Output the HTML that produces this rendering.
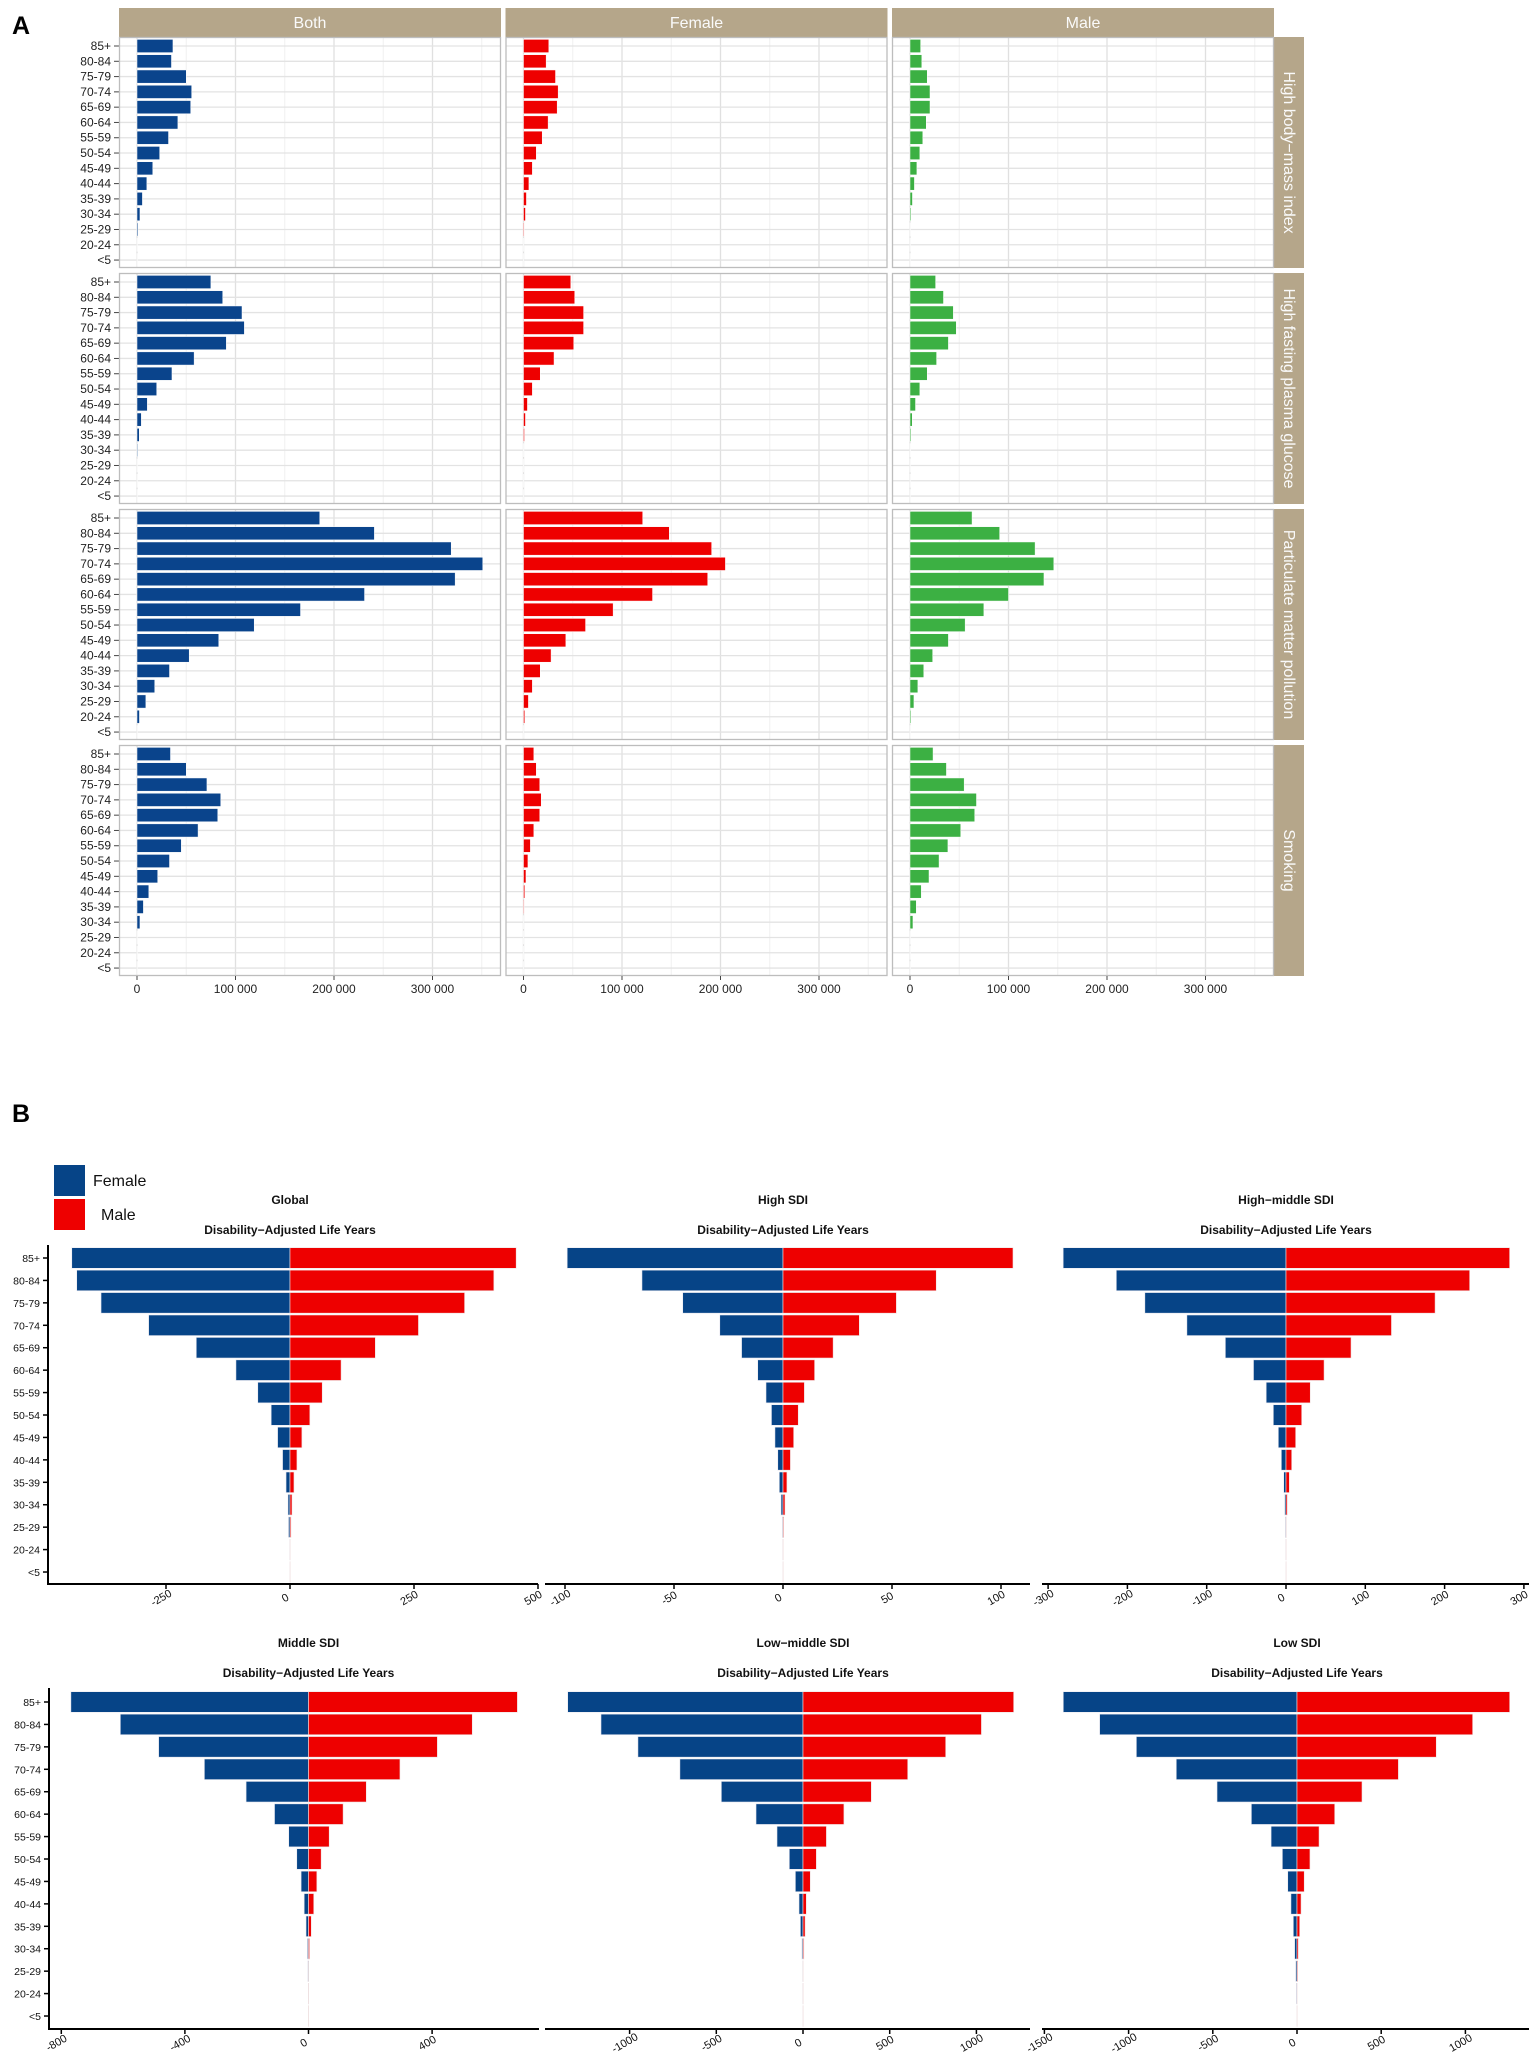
<!DOCTYPE html>
<html><head><meta charset="utf-8"><style>
html,body{margin:0;padding:0;background:#fff;}
svg{display:block;font-family:"Liberation Sans",Arial,sans-serif;}
</style></head>
<body>
<svg id="fig" width="1535" height="2058" viewBox="0 0 1535 2058" xmlns="http://www.w3.org/2000/svg">
<text x="12" y="34" font-size="25" font-weight="bold">A</text>
<text x="12" y="1122" font-size="25" font-weight="bold">B</text>
<g id="pa"></g>
<g id="pb"></g>
</svg>
<script>
// ---------- Panel A data (values in thousands) ----------
const ages = ["85+","80-84","75-79","70-74","65-69","60-64","55-59","50-54","45-49","40-44","35-39","30-34","25-29","20-24","<5"];
const sexCols = ["Both","Female","Male"];
const risks = ["High body\u2212mass index","High fasting plasma glucose","Particulate matter pollution","Smoking"];
const bmiBoth = [36.5,35,50,55.5,54.5,41.5,32,23,16,10,5.5,3,1,0.2,0];
const bmiFemale = [25.7,23,32.5,35.2,34.2,25,19,13,9,5.5,3,2,0.7,0.1,0];
const bmiMale = [10.8,12,17.5,20.3,20.3,16.5,13,10,7,4.5,2.5,1,0.3,0.1,0];
const fpgBoth = [75,87,106.6,109,90.7,58,35.5,20,10.5,4.4,2.3,0.7,0.3,0.1,0];
const fpgFemale = [48,52,61,61,51,31,17,9,4,2,1,0.4,0.1,0,0];
const fpgMale = [26,34,44,47,39,27,17.5,10,5.6,2.3,1,0.4,0.1,0,0];
const pmBoth = [185.5,241,319,351,323,231,166,119,83,53,33,18,9,2.5,0.3];
const pmFemale = [121,148,191,205,187,131,91,63,43,28,17,9,5,1.3,0.1];
const pmMale = [63,91,127,146,136,100,75,56,39,23,14,8,4,1,0.1];
const smkBoth = [34,50,71,85,82,62,45,33,21,12,6.5,3,0.3,0,0];
const smkFemale = [10.5,13,16.5,18,16.5,10.5,7,4.5,2.5,1.3,0.6,0.3,0,0,0];
const smkMale = [23.4,37,55,67.5,65.7,51.5,38.5,29.5,19.3,11.5,6.4,3,0.3,0,0];
const aTicks = [0,100,200,300];
const aTickLabels = ["0","100 000","200 000","300 000"];

// ---------- Panel B data ----------
const bTitles = ["Global","High SDI","High\u2212middle SDI","Middle SDI","Low\u2212middle SDI","Low SDI"];
const globalF = [440,430,381,285,189,109,65,38,25,15,8,4,3,0.5,0];
const globalM = [456,411,352,259,172,103,65,40,24,14,8,4,2,0.3,0];
const highF = [99,64.7,46,29,19,11.6,7.8,5.3,3.7,2.4,1.7,0.9,0.3,0.1,0];
const highM = [105.5,70.3,52,35,23,14.5,9.8,7,4.9,3.4,1.8,0.9,0.3,0.1,0];
const hmF = [281,214,178,125,76.5,41,25,16,9.7,5.9,2.9,1.7,0.8,0.2,0];
const hmM = [282,231.6,188,133,82,48,30.6,19.8,12.2,7.2,4.2,1.7,0.5,0.1,0];
const midF = [769,609,485,337,202,110,64,38,24,14,8,3.3,2.2,0.5,0];
const midM = [676,530,417,296,187,112,67,41,27,17,9,3.3,0.3,0.1,0];
const lmF = [1357,1165,952,710,471,271,150,79,44,23,15,6,2,0.5,0];
const lmM = [1215,1029,823,604,394,236,135,77,42,19,12,5,0.3,0.1,0];
const lowF = [1388,1172,954,717,475,271,154,87,55,36,22,14,8,4,0];
const lowM = [1263,1043,827,602,386,224,131,77,43,24,16,8,4,0.2,0];
const globalTicks = [-250,0,250,500];
const highTicks = [-100,-50,0,50,100];
const hmTicks = [-300,-200,-100,0,100,200,300];
const midTicks = [-800,-400,0,400];
const lmTicks = [-1000,-500,0,500,1000];
const lowTicks = [-1500,-1000,-500,0,500,1000];

const NS = "http://www.w3.org/2000/svg";
function mk(parent, tag, attrs, text){
  const e = document.createElementNS(NS, tag);
  for (const k in attrs) e.setAttribute(k, attrs[k]);
  if (text !== undefined) e.textContent = text;
  parent.appendChild(e);
  return e;
}

// ---------- Panel A ----------
const pa = document.getElementById("pa");
const colX = [119, 505.5, 892];
const rowY = [37, 273, 509, 745];
const PW = 382, PH = 231, Z0 = 18, PXK = 0.985, STEP = 15.29, OFF = 9;
const aData = [[bmiBoth,bmiFemale,bmiMale],[fpgBoth,fpgFemale,fpgMale],[pmBoth,pmFemale,pmMale],[smkBoth,smkFemale,smkMale]];
const aColors = ["#0a448c","#ee0000","#3cb043"];
function ax(c, v){ return colX[c] + Z0 + v*PXK; }
function ay(r, i){ return rowY[r] + OFF + i*STEP; }

sexCols.forEach((s,c)=>{
  const st = mk(pa,"rect",{x:colX[c],y:8,width:PW,height:29,fill:"#b5a68a"});
  
  
  const t = mk(pa,"text",{x:colX[c]+PW/2,y:28,"text-anchor":"middle","font-size":16,fill:"#fafafa"},s);
  
  
});
risks.forEach((rk,r)=>{
  const st = mk(pa,"rect",{x:1274,y:rowY[r],width:30,height:PH,fill:"#b5a68a"});
  
  
  const cx = 1284, cy = rowY[r]+PH/2;
  const t = mk(pa,"text",{x:cx,y:cy,"text-anchor":"middle","font-size":16,fill:"#fafafa",transform:`rotate(90 ${cx} ${cy})`},rk);
  
  
  ages.forEach((a,i)=>{
    const yl = mk(pa,"text",{x:111,y:ay(r,i)+4,"text-anchor":"end","font-size":12,fill:"#222"},a);
    
    
    mk(pa,"line",{x1:114,x2:119,y1:ay(r,i),y2:ay(r,i),stroke:"#444","stroke-width":1});
  });
  sexCols.forEach((s,c)=>{
    const g = mk(pa,"g",{});
    
    
    mk(g,"rect",{x:colX[c],y:rowY[r],width:PW,height:PH,fill:"#fff"});
    [50,150,250,350].forEach(v=>mk(g,"line",{x1:ax(c,v),x2:ax(c,v),y1:rowY[r],y2:rowY[r]+PH,stroke:"#f0f0f0","stroke-width":1}));
    aTicks.forEach(v=>mk(g,"line",{x1:ax(c,v),x2:ax(c,v),y1:rowY[r],y2:rowY[r]+PH,stroke:"#e0e0e0","stroke-width":1.3}));
    ages.forEach((a,i)=>mk(g,"line",{x1:colX[c],x2:colX[c]+PW,y1:ay(r,i),y2:ay(r,i),stroke:"#e3e3e3","stroke-width":1.3}));
    const vals = aData[r][c];
    vals.forEach((v,i)=>{
      const b = mk(g,"rect",{x:ax(c,0),y:ay(r,i)-6.6,width:Math.max(v*PXK,0.3),height:13.2,fill:aColors[c],stroke:"#fff","stroke-width":0.5});
      
      
    });
    mk(g,"rect",{x:colX[c]+0.5,y:rowY[r]+0.5,width:PW-1,height:PH-1,fill:"none",stroke:"#bdbdbd","stroke-width":1.3});
  });
});
sexCols.forEach((s,c)=>{
  aTicks.forEach((v,k)=>{
    mk(pa,"line",{x1:ax(c,v),x2:ax(c,v),y1:976,y2:980,stroke:"#444"});
    const t = mk(pa,"text",{x:ax(c,v),y:993,"text-anchor":"middle","font-size":12,fill:"#222"},aTickLabels[k]);
    
    
  });
});

// ---------- Panel B ----------
const pb = document.getElementById("pb");
const lf = mk(pb,"rect",{x:54,y:1165,width:31,height:31,fill:"#064487"});
 
const lm = mk(pb,"rect",{x:54,y:1199,width:31,height:31,fill:"#ee0000"});
 
const lft = mk(pb,"text",{x:93,y:1186,"font-size":16,fill:"#111"},"Female");
 
const lmt = mk(pb,"text",{x:101,y:1220,"font-size":16,fill:"#111"},"Male");
 

const pyr = [
  {t:0,F:globalF,M:globalM,ticks:globalTicks,zero:290,ppu:124/250,ax0:48,ax1:538,axisY:1584,row0:1258,titleY:1204,yAxis:true,yTop:1245},
  {t:1,F:highF,M:highM,ticks:highTicks,zero:783,ppu:109/50,ax0:545,ax1:1030,axisY:1584,row0:1258,titleY:1204,yAxis:false},
  {t:2,F:hmF,M:hmM,ticks:hmTicks,zero:1286,ppu:79.3/100,ax0:1042,ax1:1529,axisY:1584,row0:1258,titleY:1204,yAxis:false},
  {t:3,F:midF,M:midM,ticks:midTicks,zero:308.5,ppu:123.6/400,ax0:49,ax1:539,axisY:2029,row0:1702,titleY:1647,yAxis:true,yTop:1688},
  {t:4,F:lmF,M:lmM,ticks:lmTicks,zero:803,ppu:86.7/500,ax0:545,ax1:1030,axisY:2029,row0:1702,titleY:1647,yAxis:false},
  {t:5,F:lowF,M:lowM,ticks:lowTicks,zero:1297,ppu:84.2/500,ax0:1042,ax1:1529,axisY:2029,row0:1702,titleY:1647,yAxis:false}
];
const BSTEP = 22.43;
pyr.forEach(p=>{
  const g = mk(pb,"g",{});
  
  
  const xs = v => p.zero + v*p.ppu;
  const ys = i => p.row0 + i*BSTEP;
  const cx = xs(0);
  const tt = mk(g,"text",{x:cx,y:p.titleY,"text-anchor":"middle","font-size":12,"font-weight":"bold",fill:"#111"},bTitles[p.t]);
   
  const st = mk(g,"text",{x:cx,y:p.titleY+30,"text-anchor":"middle","font-size":12,"font-weight":"bold",fill:"#111"},"Disability\u2212Adjusted Life Years");
   
  ages.forEach((a,i)=>{
    const fv = p.F[i], mv = p.M[i];
    const fb = mk(g,"rect",{x:xs(-fv),y:ys(i)-10.3,width:Math.max(fv*p.ppu,0.2),height:20.6,fill:"#064487",stroke:"#e8e8f0","stroke-width":0.6});
     
    const mb = mk(g,"rect",{x:xs(0),y:ys(i)-10.3,width:Math.max(mv*p.ppu,0.2),height:20.6,fill:"#ee0000",stroke:"#f0e0e0","stroke-width":0.6});
     
  });
  mk(g,"line",{x1:p.ax0,x2:p.ax1,y1:p.axisY,y2:p.axisY,stroke:"#000","stroke-width":2});
  p.ticks.forEach(v=>{
    const x = xs(v);
    mk(g,"line",{x1:x,x2:x,y1:p.axisY,y2:p.axisY+5,stroke:"#000","stroke-width":1.5});
    const tl = mk(g,"text",{x:x-3,y:p.axisY+17,"text-anchor":"middle","font-size":11,fill:"#111",transform:`rotate(-30 ${x-3} ${p.axisY+17})`},String(v));
     
  });
  if (p.yAxis){
    mk(g,"line",{x1:p.ax0,x2:p.ax0,y1:p.yTop,y2:p.axisY+1,stroke:"#000","stroke-width":2});
    ages.forEach((a,i)=>{
      mk(g,"line",{x1:p.ax0-5,x2:p.ax0,y1:ys(i),y2:ys(i),stroke:"#000","stroke-width":1.5});
      const yl = mk(g,"text",{x:p.ax0-8,y:ys(i)+4,"text-anchor":"end","font-size":10.5,fill:"#111"},a);
       
    });
  }
});
</script>
</body></html>
